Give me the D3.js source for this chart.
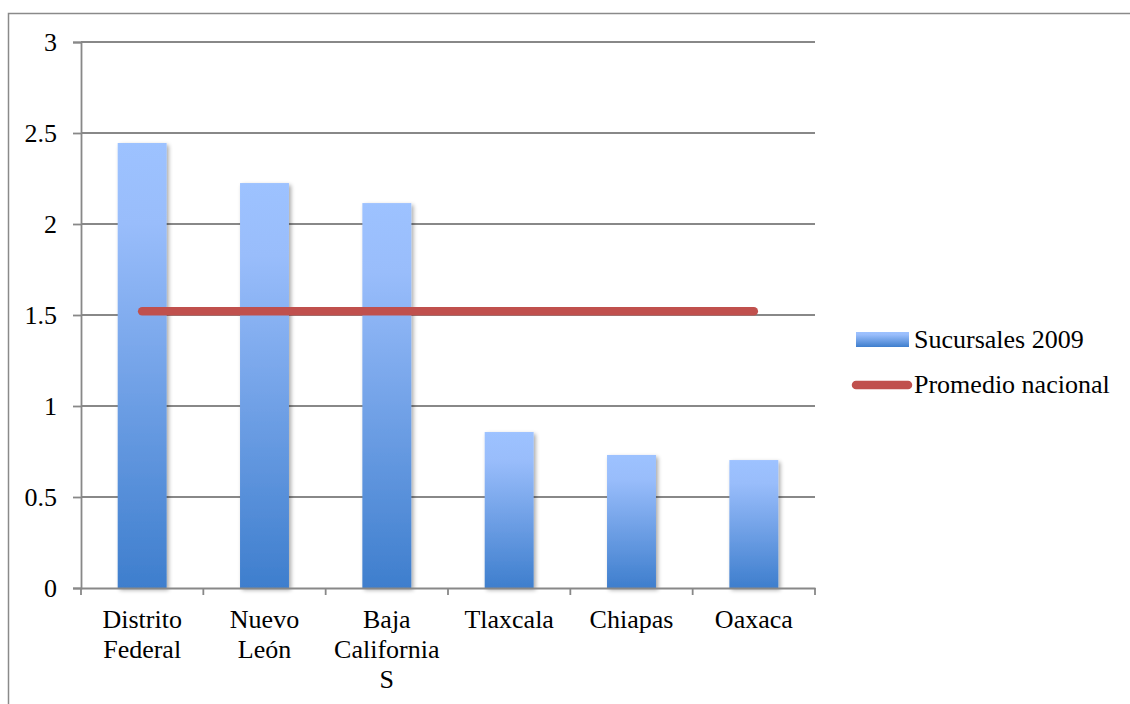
<!DOCTYPE html>
<html>
<head>
<meta charset="utf-8">
<script src="https://cdn.jsdelivr.net/npm/d3@7"></script>
<style>
  html, body { margin: 0; padding: 0; background: #fff; }
  svg { display: block; }
  svg text { font-family: "Liberation Serif", "DejaVu Serif", Times, serif !important; fill: #000; }
</style>
</head>
<body>
<svg id="chart" width="1130" height="704"></svg>
<script>
// Sucursales por estado (2009) y promedio nacional
const categories = ["Distrito Federal", "Nuevo León", "Baja California S", "Tlaxcala", "Chiapas", "Oaxaca"];
const sucursales2009 = [2.445, 2.225, 2.115, 0.857, 0.731, 0.703];
const promedioNacional = [1.52, 1.52, 1.52, 1.52, 1.52, 1.52];
const yTicks = [0, 0.5, 1, 1.5, 2, 2.5, 3];
const seriesNames = ["Sucursales 2009", "Promedio nacional"];

const svg = d3.select("#chart");
const fontSize = 26;
const serif = "'Liberation Serif', 'DejaVu Serif', Times, serif";

// frame around the chart
svg.append("rect")
  .attr("x", 8.5).attr("y", 13.5)
  .attr("width", 1130).attr("height", 720)
  .attr("fill", "none").attr("stroke", "#8a8a8a").attr("stroke-width", 1.5);

const plot = { left: 81, right: 815, top: 42, bottom: 588 };

const x = d3.scaleBand().domain(categories).range([plot.left, plot.right]).paddingInner(0.6).paddingOuter(0.3);
const xBand = d3.scaleBand().domain(categories).range([plot.left, plot.right]);
const y = d3.scaleLinear().domain([0, 3]).range([plot.bottom, plot.top]);

const defs = svg.append("defs");
const grad = defs.append("linearGradient").attr("id", "barFill")
  .attr("x1", 0).attr("y1", 0).attr("x2", 0).attr("y2", 1);
grad.append("stop").attr("offset", "0%").attr("stop-color", "#9dc2ff");
grad.append("stop").attr("offset", "18%").attr("stop-color", "#99bdfb");
grad.append("stop").attr("offset", "100%").attr("stop-color", "#3e7ecd");

const shadow = defs.append("filter").attr("id", "barShadow")
  .attr("x", "-20%").attr("y", "-5%").attr("width", "150%").attr("height", "115%");
shadow.append("feGaussianBlur").attr("in", "SourceAlpha").attr("stdDeviation", 2).attr("result", "b");
shadow.append("feOffset").attr("in", "b").attr("dx", 1.5).attr("dy", 1.5).attr("result", "o");
shadow.append("feComponentTransfer").attr("in", "o").attr("result", "s")
  .append("feFuncA").attr("type", "linear").attr("slope", 0.35);
const merge = shadow.append("feMerge");
merge.append("feMergeNode").attr("in", "s");
merge.append("feMergeNode").attr("in", "SourceGraphic");

// horizontal gridlines
svg.append("g").selectAll("line").data(yTicks.filter(d => d > 0)).join("line")
  .attr("x1", plot.left).attr("x2", plot.right)
  .attr("y1", d => y(d)).attr("y2", d => y(d))
  .attr("stroke", "#888").attr("stroke-width", 1.8);

// y axis
const yAxis = svg.append("g").attr("transform", `translate(${plot.left},0)`)
  .call(d3.axisLeft(y).tickValues(yTicks).tickFormat(d3.format("")).tickSize(8).tickPadding(16));
yAxis.attr("font-family", serif).attr("font-size", fontSize);
yAxis.select(".domain").attr("stroke", "#888").attr("stroke-width", 1.8);
yAxis.selectAll(".tick line").attr("stroke", "#888").attr("stroke-width", 1.8);
yAxis.selectAll(".tick text").style("font-family", serif).attr("font-size", fontSize).attr("fill", "#000");

// bars
svg.append("g").selectAll("rect").data(categories).join("rect")
  .attr("x", d => x(d))
  .attr("width", x.bandwidth())
  .attr("y", (d, i) => y(sucursales2009[i]))
  .attr("height", (d, i) => y(0) - y(sucursales2009[i]))
  .attr("fill", "url(#barFill)")
  .attr("filter", "url(#barShadow)");

// x axis
const xAxis = svg.append("g").attr("transform", `translate(0,${plot.bottom})`)
  .call(d3.axisBottom(xBand).tickSize(0).tickFormat(""));
xAxis.select(".domain").attr("stroke", "#888").attr("stroke-width", 1.8);
xAxis.selectAll(".tick").remove();
const edges = categories.map(c => xBand(c)).concat([plot.right]);
xAxis.selectAll("line.edge").data(edges).join("line").attr("class", "edge")
  .attr("x1", d => d).attr("x2", d => d).attr("y1", 0).attr("y2", 7)
  .attr("stroke", "#888").attr("stroke-width", 1.8);

// category labels, wrapped by word
const wrapLines = {
  "Distrito Federal": ["Distrito", "Federal"],
  "Nuevo León": ["Nuevo", "León"],
  "Baja California S": ["Baja", "California", "S"]
};
const labels = svg.append("g").selectAll("text").data(categories).join("text")
  .style("font-family", serif)
  .attr("text-anchor", "middle").attr("font-size", fontSize)
  .attr("x", d => xBand(d) + xBand.bandwidth() / 2).attr("y", 628);
labels.each(function(d) {
  const lines = wrapLines[d] || [d];
  d3.select(this).selectAll("tspan").data(lines).join("tspan")
    .attr("x", xBand(d) + xBand.bandwidth() / 2)
    .attr("dy", (l, i) => i === 0 ? 0 : 30)
    .text(l => l);
});

// national average line
const line = d3.line()
  .x((d, i) => xBand(categories[i]) + xBand.bandwidth() / 2)
  .y(d => y(d));
svg.append("path").datum(promedioNacional)
  .attr("d", line).attr("fill", "none")
  .attr("stroke", "#c0504d").attr("stroke-width", 8.5).attr("stroke-linecap", "round");

// legend
const legend = svg.append("g");
legend.append("rect").attr("x", 856).attr("y", 332).attr("width", 53).attr("height", 15)
  .attr("fill", "url(#barFill)");
legend.append("text").style("font-family", serif).attr("x", 914).attr("y", 348).attr("font-size", fontSize).text(seriesNames[0]);
legend.append("line").attr("x1", 856).attr("x2", 908).attr("y1", 385).attr("y2", 385)
  .attr("stroke", "#c0504d").attr("stroke-width", 8.5).attr("stroke-linecap", "round");
legend.append("text").style("font-family", serif).attr("x", 914).attr("y", 393).attr("font-size", fontSize).text(seriesNames[1]);
</script>
</body>
</html>
